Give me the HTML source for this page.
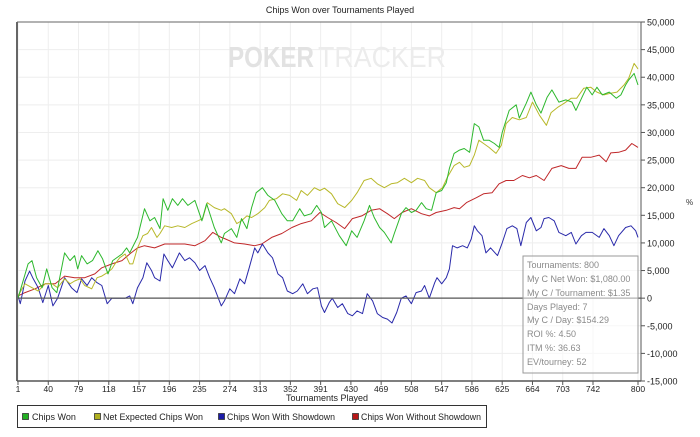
<!DOCTYPE html>
<html><head><meta charset="utf-8"><style>
html,body{margin:0;padding:0;background:#fff;width:700px;height:437px;overflow:hidden}
svg{display:block;font-family:"Liberation Sans",Arial,sans-serif}
</style></head><body>
<svg id="chart" width="700" height="437" viewBox="0 0 700 437">
<text x="340" y="13" font-size="9" text-anchor="middle" fill="#222">Chips Won over Tournaments Played</text>
<g id="grid"></g>
<g font-size="29" font-weight="bold">
<text x="228" y="67" fill="#e2e2e2" textLength="86" lengthAdjust="spacingAndGlyphs">POKER</text>
<text x="318" y="67" fill="#ececec" font-weight="normal" textLength="128" lengthAdjust="spacingAndGlyphs">TRACKER</text>
</g>
<g id="series"></g>
<g id="axes"></g>
<g>
<rect x="523" y="256" width="115" height="117" fill="rgba(255,255,255,0.55)" stroke="#999" stroke-width="1"/>
<g font-size="9" fill="#8a8a8a">
<text x="527" y="268">Tournaments: 800</text>
<text x="527" y="282">My C Net Won: $1,080.00</text>
<text x="527" y="296">My C / Tournament: $1.35</text>
<text x="527" y="310">Days Played: 7</text>
<text x="527" y="323">My C / Day: $154.29</text>
<text x="527" y="337">ROI %: 4.50</text>
<text x="527" y="351">ITM %: 36.63</text>
<text x="527" y="365">EV/tourney: 52</text>
</g></g>
<text x="327" y="401" font-size="9" text-anchor="middle" fill="#222">Tournaments Played</text>
<text x="686" y="205" font-size="8" fill="#333">%</text>
<g>
<rect x="17.5" y="405.5" width="469" height="22" fill="#fff" stroke="#333" stroke-width="1"/>
<g font-size="9" fill="#222">
<g><rect x="22.5" y="413.5" width="6" height="6" fill="#22b022" stroke="#333" stroke-width="0.8"/><text x="32" y="420">Chips Won</text></g>
<g><rect x="94.5" y="413.5" width="6" height="6" fill="#b0b020" stroke="#333" stroke-width="0.8"/><text x="103" y="420" textLength="100" lengthAdjust="spacingAndGlyphs">Net Expected Chips Won</text></g>
<g><rect x="218.5" y="413.5" width="6" height="6" fill="#1c1ca8" stroke="#333" stroke-width="0.8"/><text x="227" y="420" textLength="108" lengthAdjust="spacingAndGlyphs">Chips Won With Showdown</text></g>
<g><rect x="352.5" y="413.5" width="6" height="6" fill="#b81818" stroke="#333" stroke-width="0.8"/><text x="361" y="420" textLength="120" lengthAdjust="spacingAndGlyphs">Chips Won Without Showdown</text></g>
</g></g>
</svg>
<script>
const xTicks = [1,40,79,118,157,196,235,274,313,352,391,430,469,508,547,586,625,664,703,742,800];
const yTicks = [50000,45000,40000,35000,30000,25000,20000,15000,10000,5000,0,-5000,-10000,-15000];
const yTickLabels = ["50,000","45,000","40,000","35,000","30,000","25,000","20,000","15,000","10,000","5,000","0","-5,000","-10,000","-15,000"];

const greenT = [1,14,19,25,32,38,45,51,61,68,74,78,83,90,97,104,110,117,123,135,141,145,155,164,171,177,184,188,194,200,207,213,220,229,238,244,254,263,
267,276,283,289,296,302,308,316,323,332,341,348,355,364,370,379,386,392,396,405,415,424,431,438,447,454,460,467,473,482,486,495,501,508,514,521,527,534,540,547,
553,557,563,570,576,583,589,595,601,608,615,621,625,634,643,647,656,662,669,675,683,689,698,707,715,720,728,734,741,747,754,763,772,778,784,788,795,800];
const greenV = [0,6.2,6.8,3.7,1.9,5.3,1.9,1,8.2,6.8,7.7,5.3,7.7,6.2,6.8,8.6,7.1,4.4,6.8,8,9.1,8.2,11,16.2,14,14.6,12.6,18,15.9,18,16.8,18,16.8,17.7,14,17.1,12.8,10,
11.7,12.6,11,14.4,12.6,16.4,19.1,20,18.6,17.7,15.3,14,14,16.2,14.9,15.3,16.8,15.5,12.8,14,11.3,9.5,12.2,11,14,16.8,14.6,12.8,11.9,10,11.7,15.3,16.4,15.5,15.9,17.3,16.2,15.9,19.1,19.5,
20.9,23.5,26.2,26.8,27.1,26.4,31.6,31,28.6,28.6,28,27.3,30,34,35,32.6,35.3,37.3,35,33.5,36.4,37.7,35.5,35.9,35.5,34,36.4,38.2,36.8,38.2,36.8,37.3,36.2,36.8,38.6,39.5,40.7,38.6];

const yellowT = [1,10,19,27,36,45,52,61,68,74,81,87,96,103,109,116,122,126,132,139,145,149,155,162,168,173,180,184,190,199,207,216,225,233,239,245,254,263,
267,276,283,289,296,302,310,319,325,334,342,351,360,366,374,383,390,396,405,413,422,431,438,447,456,464,473,482,490,499,508,516,525,
531,540,548,554,563,570,576,583,589,595,601,608,617,624,630,638,647,656,664,673,682,688,696,705,714,721,730,739,747,756,765,773,782,788,795,800];
const yellowV = [0.4,2.6,1.9,1.3,2.6,2.6,1.9,3.5,2.6,3.1,3.5,2.3,1.7,3.7,4,4.6,5.3,6.2,7.3,8,6.2,6.2,9.1,11.3,11.7,12.8,11,11.7,13.1,12.8,13.1,12.8,13.5,14,14.4,17.3,16.4,15.9,
16.2,15.3,13.5,14,14.9,14.6,15.3,16.4,17.7,18,18.9,18.6,17.7,19.5,18.6,20,19.5,19.9,18.9,17.1,16.4,17.7,19.1,21.3,21.7,20.7,20,20.7,20.9,21.7,20.9,21.7,21.3,
20,19.1,20,21.8,24,24.6,23.7,24,25.9,28.6,28,27.3,26.2,27.7,31.6,32.7,32.3,32.7,35.5,33.1,31.3,33.6,34.5,35.3,36.2,36.2,38,38.2,37.3,36.8,37.1,37.3,38.6,39.8,42.5,41.5];

const redT = [1,10,23,36,49,61,74,87,100,109,122,135,145,155,164,177,190,203,216,229,242,252,263,
267,280,293,306,315,328,341,354,366,379,390,400,411,422,432,444,456,467,477,486,496,508,521,
531,540,553,563,570,579,592,601,612,621,630,640,651,660,669,679,689,701,711,720,728,739,750,759,765,775,784,792,800];
const redV = [0.4,1,1.7,2.6,2.6,4,3.7,3.7,4.4,5.5,6.2,6.8,8,9.1,9.5,9.1,9.8,9.8,9.8,9.5,10.4,11.9,11,
10.8,10,9.8,9.5,9.8,11,11.7,12.8,13.5,14,15.5,14.6,13.7,12.6,14.4,14.9,15.9,16.2,15.3,14.4,15.5,16.2,15.3,
14.9,15.5,15.9,16.4,16.2,17.3,18.2,18.9,19.1,20.7,21.3,21.3,22.2,21.8,22.2,21.3,23.5,24,23.5,23.5,25.5,25.5,25.9,24.7,26.3,26.4,26.8,28,27.3];

const blueT = [1,4,10,16,20,27,33,40,46,52,61,70,77,83,90,96,103,109,116,122,130,139,145,149,155,162,167,173,177,184,189,194,200,209,216,222,229,235,242,248,254,263,
267,274,280,287,293,299,306,310,316,323,329,336,342,348,355,361,368,374,381,387,392,396,402,406,413,419,426,432,438,445,451,458,464,471,477,483,489,495,501,508,514,521,525,
531,538,541,547,553,557,561,567,574,580,585,589,593,599,604,610,619,625,631,638,644,649,656,662,669,675,679,685,692,698,707,714,720,727,733,741,750,756,763,769,775,784,791,797,800];
const blueV = [0.4,-1,3.1,4.9,3.7,1.9,-0.8,2.3,-1.4,0,3.7,1.9,1,3.5,2.3,3.7,2.8,2.3,-1,0,0,0,0.4,-1,1.9,3.7,6.4,5,3.7,3.1,8,6.8,5.5,8.2,6.8,7.3,6.4,5,5.9,3.7,1.9,-1.4,
-0.5,1.7,0.8,3.5,2.6,5.5,9.1,8.2,9.8,8.2,7.3,4.4,3.7,1.3,0.8,1.3,2.6,0.8,1.7,1.9,-1.4,-2.6,-0.8,0,-1.7,-1,-2.8,-3.2,-2.3,-2.8,0.8,-0.5,-2.8,-3.5,-3.8,-4.5,-2.6,0,0.4,-1,1,1.3,2.3,
0,2.8,3.7,2.6,3.7,5.3,9.5,9.1,9.5,9.1,10.7,13.1,12.2,11.3,8.2,9.1,7.7,10,12.6,13.1,12.6,9.5,13.7,14.6,12.2,12.8,14.4,14.6,14,11.9,11.3,11.9,9.8,11.3,11.9,11.9,11,12.6,11.3,9.5,11.3,12.8,13.1,12.2,11];

const NS = "http://www.w3.org/2000/svg";
const L = 17, R = 641, T = 22, B = 381;
function xScale(t){ return 18 + (t - 1) * (638 - 18) / 799; }
function yScale(v){ return T + (50000 - v) * (B - T) / 65000; }
function mk(tag, attrs, parent){ const e = document.createElementNS(NS, tag); for (const k in attrs) e.setAttribute(k, attrs[k]); parent.appendChild(e); return e; }

const grid = document.getElementById('grid');
const axes = document.getElementById('axes');
mk('rect', {x:L, y:T, width:R-L, height:B-T, fill:'#fff'}, grid);
xTicks.forEach(function(t){
  const x = xScale(t);
  const g = mk('line', {x1:x, x2:x, y1:T, y2:B, stroke:'#eeeeee', 'stroke-width':1}, grid);
  
  
  mk('line', {x1:x, x2:x, y1:B, y2:B+4, stroke:'#555', 'stroke-width':1}, axes);
  const lb = mk('text', {x:x, y:B+11, 'font-size':8.5, 'text-anchor':'middle', fill:'#222'}, axes);
  lb.textContent = String(t);
  
  
});
yTicks.forEach(function(v, i){
  const y = yScale(v);
  const g = mk('line', {x1:L, x2:R, y1:y, y2:y, stroke: v === 0 ? '#555' : '#eeeeee', 'stroke-width': v === 0 ? 1.2 : 1}, v === 0 ? axes : grid);
  
  
  mk('line', {x1:R, x2:R+4, y1:y, y2:y, stroke:'#555', 'stroke-width':1}, axes);
  const lb = mk('text', {x:R+6, y:y+3.5, 'font-size':9, fill:'#222'}, axes);
  lb.textContent = yTickLabels[i];
  
  
});
const la = mk('line', {x1:L, x2:L, y1:T, y2:B, stroke:'#666', 'stroke-width':2}, axes);


const ra = mk('line', {x1:R, x2:R, y1:T, y2:B, stroke:'#555', 'stroke-width':1}, axes);


const ta = mk('line', {x1:L, x2:R, y1:T, y2:T, stroke:'#666', 'stroke-width':1}, axes);


const ba = mk('line', {x1:L, x2:R, y1:B, y2:B, stroke:'#555', 'stroke-width':1.5}, axes);



const seriesLayer = document.getElementById('series');
function drawSeries(ts, vs, color, name){
  const pts = ts.map(function(t, i){ return xScale(t).toFixed(1) + ',' + yScale(vs[i] * 1000).toFixed(1); }).join(' ');
  const p = mk('polyline', {points:pts, fill:'none', stroke:color, 'stroke-width':1, 'stroke-linejoin':'round'}, seriesLayer);
  
  
}
drawSeries(redT, redV, '#c0282a', 'line-chips-won-without-showdown');
drawSeries(blueT, blueV, '#2a2aaa', 'line-chips-won-with-showdown');
drawSeries(yellowT, yellowV, '#b8b82a', 'line-net-expected-chips-won');
drawSeries(greenT, greenV, '#2db82d', 'line-chips-won');
</script>
</body></html>
